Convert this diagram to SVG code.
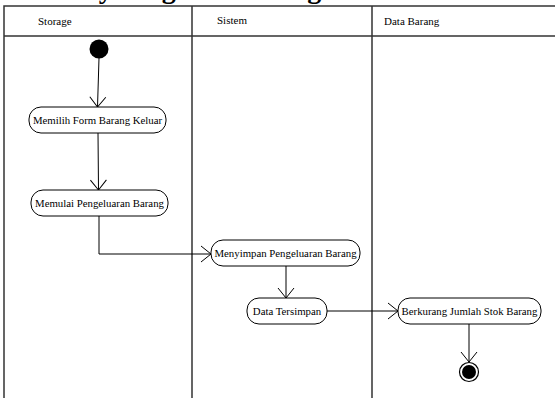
<svg xmlns="http://www.w3.org/2000/svg" width="555" height="398" viewBox="0 0 555 398">
<style>
.lane{stroke:#333;stroke-width:1.5;fill:none}
text{font-family:'Liberation Serif','Times New Roman',Times,serif}
.lbl{font-size:11px;fill:#000}
.act rect{fill:#fff;stroke:#000;stroke-width:1}
.act text{font-size:10.8px;fill:#000;text-anchor:middle}
.edge{stroke:#000;stroke-width:1;fill:none}
.title{font-size:28px;font-weight:bold;fill:#000}
</style>
<defs>
<marker id="open" markerWidth="12" markerHeight="18" refX="11" refY="9" orient="auto" markerUnits="userSpaceOnUse">
<path d="M1,1 L11,9 L1,17" fill="none" stroke="#000" stroke-width="1"/>
</marker>
</defs>
<rect width="555" height="398" fill="#fff"/>
<text class="title" x="18" y="-2.5">Activity Diagram Barang Keluar</text>
<g id="swimlanes">
<path class="lane" d="M4,398 V6 H555 M4,36 H555 M192,6 V398 M372,6 V398"/>
<text class="lbl" x="38" y="25">Storage</text>
<text class="lbl" x="217" y="24">Sistem</text>
<text class="lbl" x="384" y="25">Data Barang</text>
</g>
<g id="connectors">
<path class="edge" d="M99,58 L97.5,107" marker-end="url(#open)"/>
<path class="edge" d="M98,133 L98.5,190" marker-end="url(#open)"/>
<path class="edge" d="M99,216 V254 H211" marker-end="url(#open)"/>
<path class="edge" d="M286,266 V298" marker-end="url(#open)"/>
<path class="edge" d="M327,311 H398" marker-end="url(#open)"/>
<path class="edge" d="M469,324 V362" marker-end="url(#open)"/>
</g>
<g id="start"><circle cx="99" cy="49" r="9.5" fill="#000"/></g>
<g id="memilih" class="act"><rect x="29" y="107" width="137" height="26" rx="12"/><text x="97.5" y="124">Memilih Form Barang Keluar</text></g>
<g id="memulai" class="act"><rect x="31" y="190" width="137" height="26" rx="12"/><text x="99.5" y="207">Memulai Pengeluaran Barang</text></g>
<g id="menyimpan" class="act"><rect x="211" y="240" width="149" height="26" rx="12"/><text x="285.5" y="257">Menyimpan Pengeluaran Barang</text></g>
<g id="tersimpan" class="act"><rect x="247" y="298" width="80" height="26" rx="12"/><text x="287" y="315">Data Tersimpan</text></g>
<g id="berkurang" class="act"><rect x="398" y="298" width="143" height="26" rx="12"/><text x="469.5" y="315">Berkurang Jumlah Stok Barang</text></g>
<g id="end"><circle cx="469" cy="372" r="9.5" fill="#fff" stroke="#000" stroke-width="1.2"/><circle cx="469" cy="372" r="7" fill="#000"/></g>
</svg>
